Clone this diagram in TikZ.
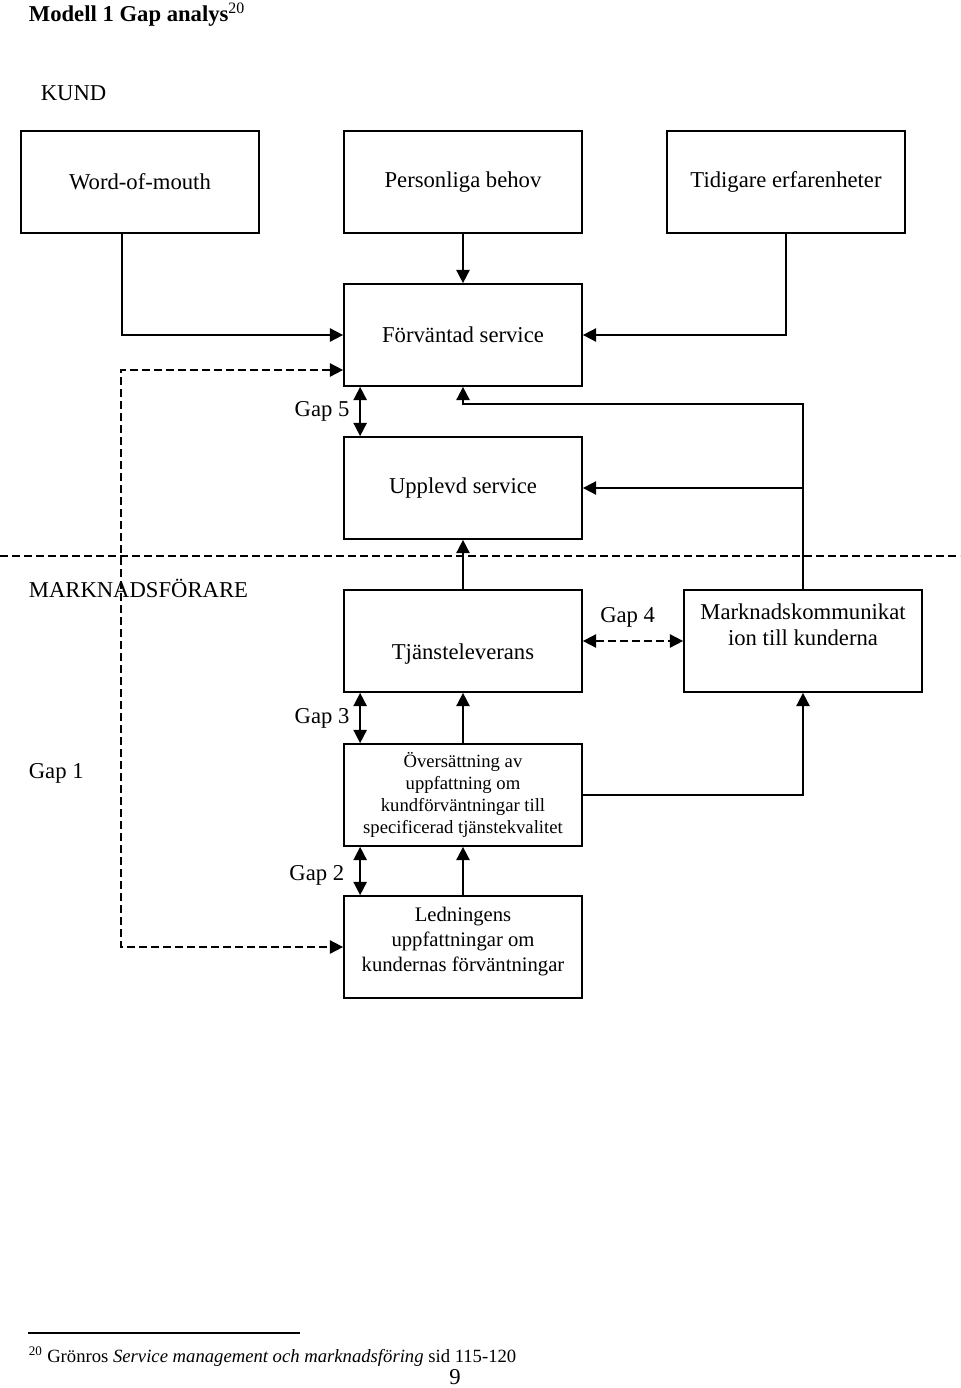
\documentclass[tikz,border=0pt]{standalone}
\usepackage{fontspec}
\setmainfont{Liberation Serif}
\usetikzlibrary{arrows.meta,calc}

\begin{document}
\begin{tikzpicture}[x=0.75pt,y=-0.75pt,line width=1.3pt,>={Triangle[length=10pt,width=10pt]},font=\fontsize{17}{20}\selectfont]
    \tikzstyle{box}=[draw,minimum width=178.5pt,minimum height=76.5pt,inner sep=0pt,align=center]
    \tikzstyle{gapline}=[dash pattern=on 6pt off 3pt]
    \tikzstyle{small}=[font=\fontsize{14}{16.3}\selectfont]
    \tikzstyle{mid}=[font=\fontsize{15.5}{18}\selectfont]
    \useasboundingbox (0,0) rectangle (960,1388);

    \node(title)[anchor=base west,inner sep=0pt,font=\fontsize{17}{20}\selectfont\bfseries] at (28,22) {Modell 1 Gap analys\textsuperscript{\normalfont 20}};
    \node(kund)[anchor=west,inner sep=0pt] at (40,93) {KUND};
    \node(mf)[anchor=west,inner sep=0pt] at (28,588) {MARKNADSFÖRARE};
    \node(gap1)[anchor=west,inner sep=0pt] at (28,773) {Gap 1};

    % kund
    \node(word)[box] at (140,182) {Word-of-mouth};
    \node(pers)[box] at (463,182) {Personliga behov};
    \node(tid)[box] at (786,182) {Tidigare erfarenheter};
    \node(forv)[box] at (463,335) {Förväntad service};
    \node(upp)[box] at (463,488) {Upplevd service};

    % marknadsförare
    \node(tjanst)[box,label={[yshift=-9.5pt]center:Tjänsteleverans}] at (463,641) {};
    \node(mark)[box,label={[yshift=10.5pt]center:\begin{tabular}{@{}c@{}}Marknadskommunikat\\ion till kunderna\end{tabular}}] at (803,641) {};
    \node(over)[box,small] at (463,795) {Översättning av\\uppfattning om\\kundförväntningar till\\specificerad tjänstekvalitet};
    \node(led)[box,mid,label={[mid,yshift=4pt]center:\begin{tabular}{@{}c@{}}Ledningens\\[0.5pt]uppfattningar om\\[0.5pt]kundernas förväntningar\end{tabular}}] at (463,947) {};

    % gränslinje
    \draw[gapline] (0,556) -- (960,556);

    % pilar
    \draw[->] (pers) -- (forv);
    \draw[->] ($(word.south)+(-18,0)$) |- (forv.west);
    \draw[->] (tid.south) |- (forv.east);
    \draw[->] (mark.north) |- ($(forv.south)+(0,17)$) -- (forv.south);
    \draw[->] (mark.north |- upp.east) -- (upp.east);
    \draw[->] (tjanst) -- (upp);
    \draw[->] (over) -- (tjanst);
    \draw[->] (led) -- (over);
    \draw[->] (over.east) -| (mark.south);
    \draw[gapline,<->] ($(forv.west)+(0,35)$) -- ++(-222,0) |- (led.west);

    % gap
    \draw[<->] ($(forv.south west)+(17,0)$) -- ($(upp.north west)+(17,0)$) node(gap5)[midway,left=4pt]{Gap 5};
    \draw[<->] ($(tjanst.south west)+(17,0)$) -- ($(over.north west)+(17,0)$) node(gap3)[midway,left=4pt]{Gap 3};
    \draw[<->] ($(over.south west)+(17,0)$) -- ($(led.north west)+(17,0)$) node(gap2)[midway,left=8pt,yshift=-3pt]{Gap 2};
    \draw[gapline,<->] (tjanst.east) -- (mark.west) node(gap4)[midway,above=6pt,xshift=-4pt]{Gap 4};

    % fotnot
    \coordinate(fa) at (28,1333);
    \coordinate(fb) at (300,1333);
    \draw[line width=0.8pt] (fa) -- (fb);
    \node(fn)[anchor=base west,inner sep=0pt,font=\fontsize{14}{16}\selectfont] at (28,1362) {\textsuperscript{20} Grönros \textit{Service management och marknadsföring} sid 115-120};
    \node(page)[anchor=base,inner sep=0pt] at (455,1384) {9};
\end{tikzpicture}
\end{document}
